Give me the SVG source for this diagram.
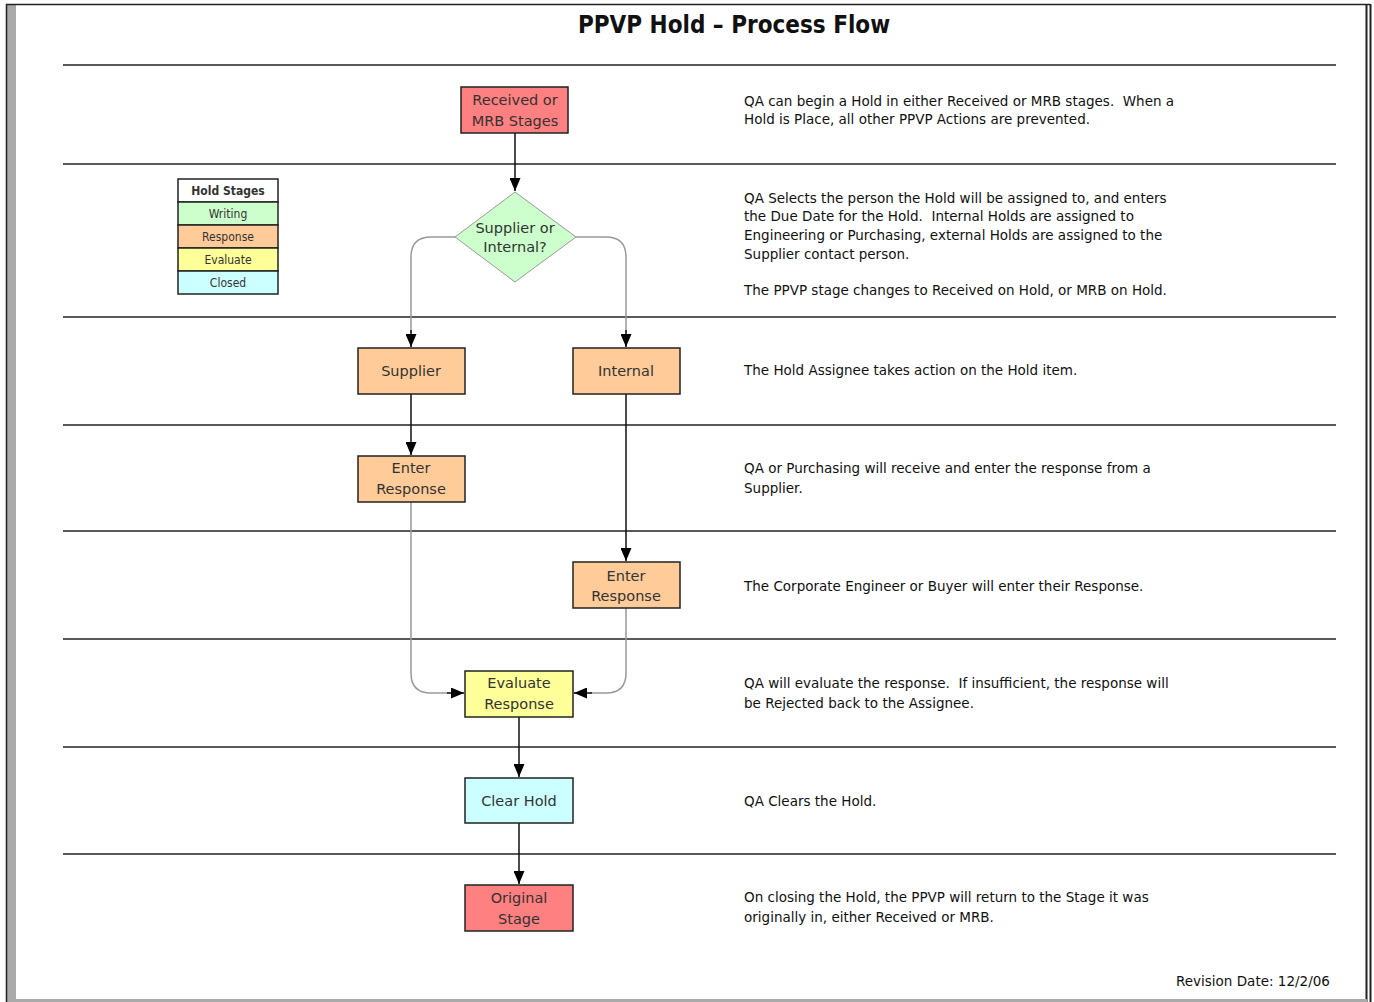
<svg xmlns="http://www.w3.org/2000/svg" width="1374" height="1002" viewBox="0 0 1374 1002">
<defs>
<style>
.node{stroke:#222;stroke-width:1.5}
.red{fill:#ff8080}.grn{fill:#ccffcc}.org{fill:#ffcc99}.yel{fill:#ffff99}.cyn{fill:#ccffff}
.nt{font-family:"DejaVu Sans",sans-serif;font-size:14.5px;fill:#333;text-anchor:middle}
.dt{font-family:"DejaVu Sans",sans-serif;font-size:13.5px;fill:#111;white-space:pre}
.lg{font-family:"DejaVu Sans Condensed","DejaVu Sans",sans-serif;font-size:12px;fill:#333;text-anchor:middle}
.sep{stroke:#222;stroke-width:1.5}
.blk{stroke:#111;stroke-width:1.5;fill:none}
.gry{stroke:#999;stroke-width:1.5;fill:none}
</style>
<marker id="ah" viewBox="0 0 10 10" refX="10" refY="5" markerWidth="13" markerHeight="11" markerUnits="userSpaceOnUse" orient="auto" preserveAspectRatio="none"><path d="M0,0 L10,5 L0,10 z" fill="#000"/></marker>
</defs>
<rect width="1374" height="1002" fill="#fff"/>
<g id="page">
<rect x="7" y="5" width="9" height="997" fill="#aaa"/>
<line x1="6.5" y1="4" x2="6.5" y2="1002" stroke="#222" stroke-width="1.5"/>
<line x1="6" y1="4.5" x2="1370" y2="4.5" stroke="#222" stroke-width="1.5"/>
<line x1="1366.5" y1="4" x2="1366.5" y2="1002" stroke="#222" stroke-width="2"/>
<line x1="1370.5" y1="4" x2="1370.5" y2="1002" stroke="#222" stroke-width="2"/>
<rect x="15" y="999" width="1352" height="3" fill="#aaa"/>
</g>
<text x="734" y="33" text-anchor="middle" font-family="'DejaVu Sans Condensed','DejaVu Sans',sans-serif" font-weight="bold" font-size="24" fill="#111">PPVP Hold – Process Flow</text>
<g id="separators">
<line class="sep" x1="63" y1="65" x2="1336" y2="65"/>
<line class="sep" x1="63" y1="164" x2="1336" y2="164"/>
<line class="sep" x1="63" y1="317" x2="1336" y2="317"/>
<line class="sep" x1="63" y1="425" x2="1336" y2="425"/>
<line class="sep" x1="63" y1="531" x2="1336" y2="531"/>
<line class="sep" x1="63" y1="639" x2="1336" y2="639"/>
<line class="sep" x1="63" y1="747" x2="1336" y2="747"/>
<line class="sep" x1="63" y1="854" x2="1336" y2="854"/>
</g>
<g id="legend">
<rect x="178" y="179" width="100" height="23" fill="#fff" class="node"/>
<rect x="178" y="202" width="100" height="23" class="node grn"/>
<rect x="178" y="225" width="100" height="23" class="node org"/>
<rect x="178" y="248" width="100" height="23" class="node yel"/>
<rect x="178" y="271" width="100" height="23" class="node cyn"/>
<text x="228" y="195" class="lg" font-weight="bold" fill="#111">Hold Stages</text>
<text x="228" y="218" class="lg">Writing</text>
<text x="228" y="241" class="lg">Response</text>
<text x="228" y="264" class="lg">Evaluate</text>
<text x="228" y="287" class="lg">Closed</text>
</g>
<g id="connectors">
<line class="blk" x1="515" y1="133" x2="515" y2="191" marker-end="url(#ah)"/>
<path class="gry" d="M455,237 H431 Q411,237 411,257 V333"/>
<line class="blk" x1="411" y1="330" x2="411" y2="347" marker-end="url(#ah)"/>
<path class="gry" d="M576,237 H606 Q626,237 626,257 V333"/>
<line class="blk" x1="626" y1="330" x2="626" y2="347" marker-end="url(#ah)"/>
<line class="blk" x1="411" y1="394" x2="411" y2="455" marker-end="url(#ah)"/>
<line class="blk" x1="626" y1="394" x2="626" y2="561" marker-end="url(#ah)"/>
<path class="gry" d="M411,502 V673 Q411,693 431,693 H450"/>
<line class="blk" x1="447" y1="693" x2="464" y2="693" marker-end="url(#ah)"/>
<path class="gry" d="M626,608 V673 Q626,693 606,693 H590"/>
<line class="blk" x1="592" y1="693" x2="574" y2="693" marker-end="url(#ah)"/>
<line class="blk" x1="519" y1="717" x2="519" y2="777" marker-end="url(#ah)"/>
<line class="blk" x1="519" y1="823" x2="519" y2="884" marker-end="url(#ah)"/>
</g>
<g id="n-received"><rect x="461" y="87" width="107" height="46" class="node red"/><text class="nt" x="515" y="105">Received or</text><text class="nt" x="515" y="126">MRB Stages</text></g>
<g id="n-decision"><polygon points="515,192 576,237 515,282 455,237" class="grn" stroke="#999" stroke-width="1"/><text class="nt" x="515" y="233">Supplier or</text><text class="nt" x="515" y="252">Internal?</text></g>
<g id="n-supplier"><rect x="358" y="348" width="107" height="46" class="node org"/><text class="nt" x="411" y="376">Supplier</text></g>
<g id="n-internal"><rect x="573" y="348" width="107" height="46" class="node org"/><text class="nt" x="626" y="376">Internal</text></g>
<g id="n-enter-sup"><rect x="358" y="456" width="107" height="46" class="node org"/><text class="nt" x="411" y="473">Enter</text><text class="nt" x="411" y="494">Response</text></g>
<g id="n-enter-int"><rect x="573" y="562" width="107" height="46" class="node org"/><text class="nt" x="626" y="581">Enter</text><text class="nt" x="626" y="601">Response</text></g>
<g id="n-evaluate"><rect x="465" y="671" width="108" height="46" class="node yel"/><text class="nt" x="519" y="688">Evaluate</text><text class="nt" x="519" y="709">Response</text></g>
<g id="n-clear"><rect x="465" y="778" width="108" height="45" class="node cyn"/><text class="nt" x="519" y="806">Clear Hold</text></g>
<g id="n-original"><rect x="465" y="885" width="108" height="46" class="node red"/><text class="nt" x="519" y="903">Original</text><text class="nt" x="519" y="924">Stage</text></g>
<g id="descriptions">
<text class="dt" x="744" y="106">QA can begin a Hold in either Received or MRB stages.  When a</text>
<text class="dt" x="744" y="124">Hold is Place, all other PPVP Actions are prevented.</text>
<text class="dt" x="744" y="203">QA Selects the person the Hold will be assigned to, and enters</text>
<text class="dt" x="744" y="221">the Due Date for the Hold.  Internal Holds are assigned to</text>
<text class="dt" x="744" y="240">Engineering or Purchasing, external Holds are assigned to the</text>
<text class="dt" x="744" y="259">Supplier contact person.</text>
<text class="dt" x="744" y="295">The PPVP stage changes to Received on Hold, or MRB on Hold.</text>
<text class="dt" x="744" y="375">The Hold Assignee takes action on the Hold item.</text>
<text class="dt" x="744" y="473">QA or Purchasing will receive and enter the response from a</text>
<text class="dt" x="744" y="493">Supplier.</text>
<text class="dt" x="744" y="591">The Corporate Engineer or Buyer will enter their Response.</text>
<text class="dt" x="744" y="688">QA will evaluate the response.  If insufficient, the response will</text>
<text class="dt" x="744" y="708">be Rejected back to the Assignee.</text>
<text class="dt" x="744" y="806">QA Clears the Hold.</text>
<text class="dt" x="744" y="902">On closing the Hold, the PPVP will return to the Stage it was</text>
<text class="dt" x="744" y="922">originally in, either Received or MRB.</text>
<text class="dt" x="1176" y="986">Revision Date: 12/2/06</text>
</g>
</svg>
